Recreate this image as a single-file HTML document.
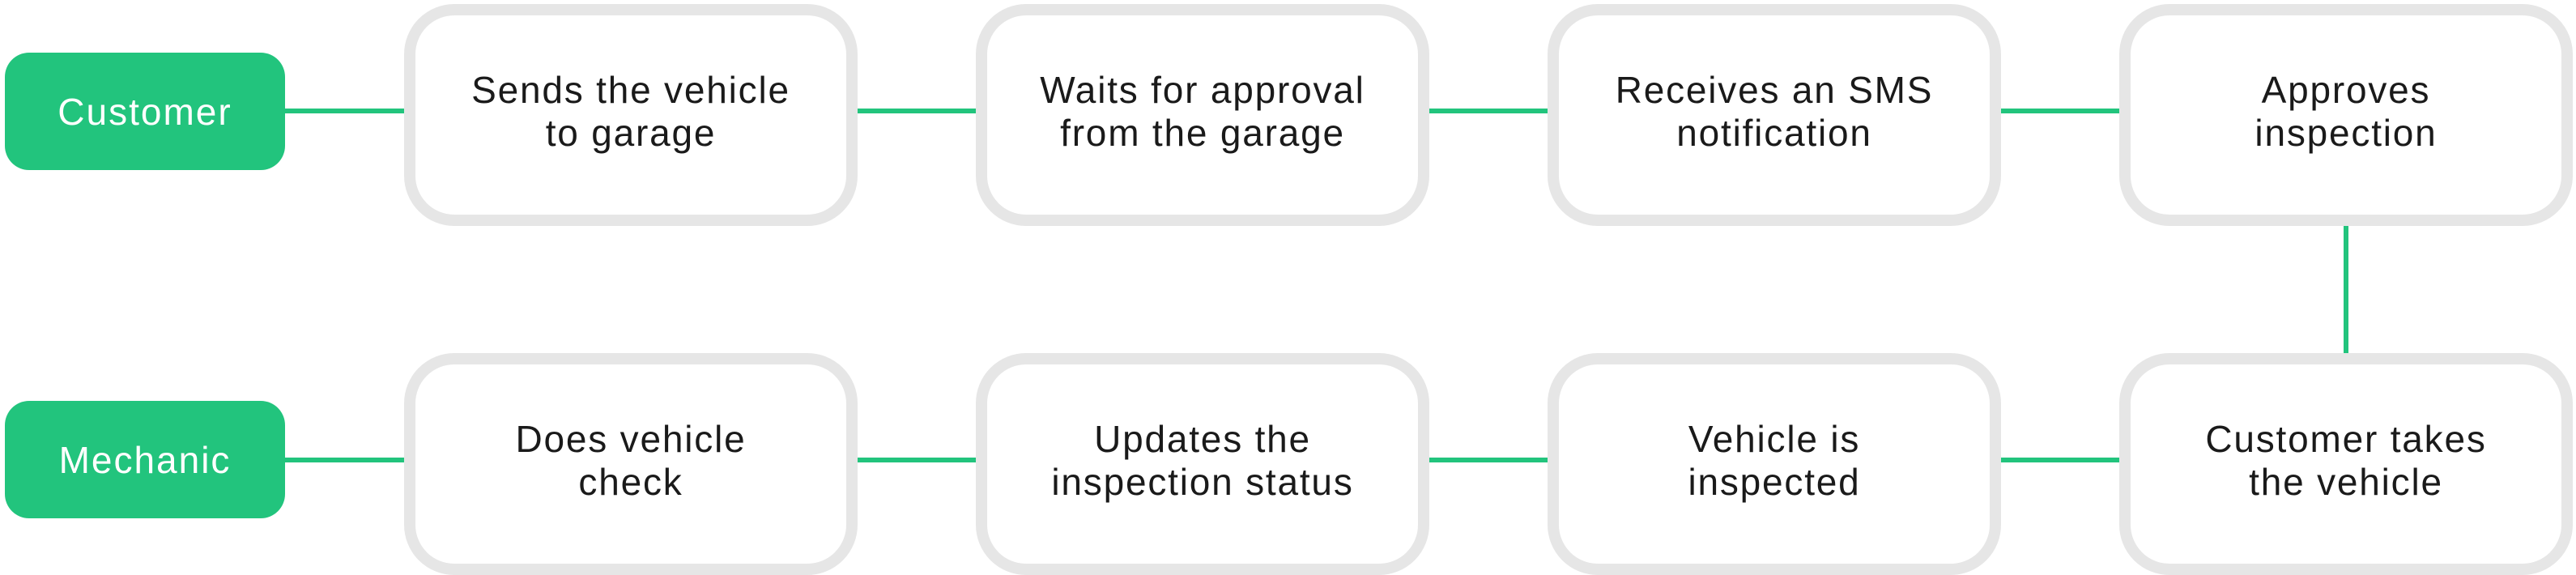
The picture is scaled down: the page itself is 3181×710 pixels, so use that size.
<!DOCTYPE html>
<html><head><meta charset="utf-8"><style>
html,body{margin:0;padding:0;background:#fff;}
body{width:3181px;height:707px;position:relative;overflow:hidden;font-family:"Liberation Sans",sans-serif;}
.lab{position:absolute;left:6px;width:346px;height:145px;background:#22c47d;border-radius:30px;color:#fff;font-size:46px;letter-spacing:2px;display:flex;align-items:center;justify-content:center;}
.box{position:absolute;width:532px;height:238px;border:14px solid #e6e6e6;border-radius:62px;background:#fff;display:flex;align-items:center;justify-content:center;text-align:center;font-size:46px;letter-spacing:1.8px;line-height:53px;color:#1a1a1a;padding-bottom:8px;box-sizing:content-box;}
.h{position:absolute;height:6px;background:#22c47d;}
.v{position:absolute;width:6px;background:#22c47d;}
</style></head><body>
<div class="h" style="left:352px;top:134px;width:150px"></div>
<div class="h" style="left:1057px;top:134px;width:150px"></div>
<div class="h" style="left:1763px;top:134px;width:150px"></div>
<div class="h" style="left:2469px;top:134px;width:150px"></div>
<div class="h" style="left:352px;top:565px;width:150px"></div>
<div class="h" style="left:1057px;top:565px;width:150px"></div>
<div class="h" style="left:1763px;top:565px;width:150px"></div>
<div class="h" style="left:2469px;top:565px;width:150px"></div>
<div class="v" style="left:2894px;top:270px;height:166px"></div>

<div class="lab" style="top:65px">Customer</div>
<div class="lab" style="top:495px">Mechanic</div>

<div class="box" style="left:499px;top:5px">Sends the vehicle<br>to garage</div>
<div class="box" style="left:1205px;top:5px">Waits for approval<br>from the garage</div>
<div class="box" style="left:1911px;top:5px">Receives an SMS<br>notification</div>
<div class="box" style="left:2617px;top:5px">Approves<br>inspection</div>

<div class="box" style="left:499px;top:436px">Does vehicle<br>check</div>
<div class="box" style="left:1205px;top:436px">Updates the<br>inspection status</div>
<div class="box" style="left:1911px;top:436px">Vehicle is<br>inspected</div>
<div class="box" style="left:2617px;top:436px">Customer takes<br>the vehicle</div>
</body></html>
